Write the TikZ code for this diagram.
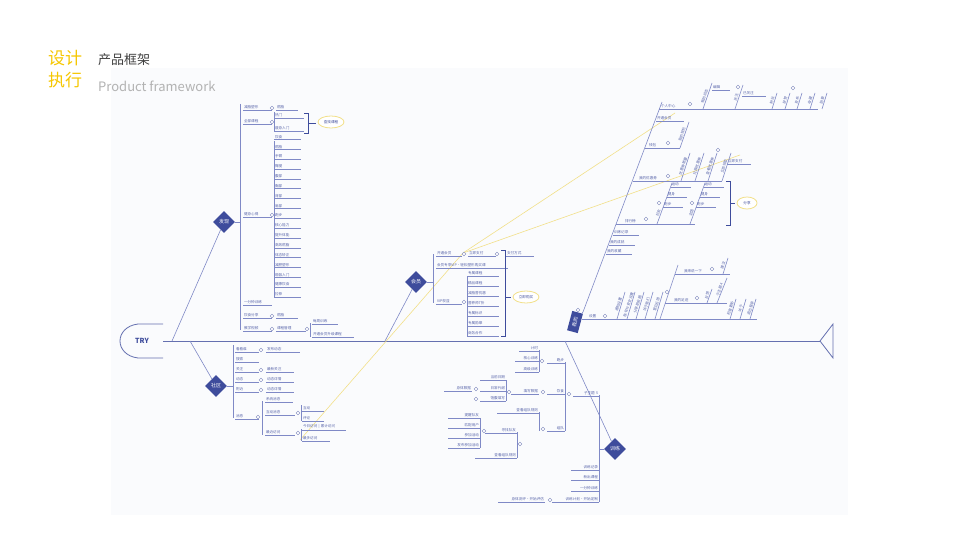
\documentclass[tikz,border=0pt]{standalone}
\usepackage{fontspec}
\setmainfont{Noto Sans CJK SC}
\usetikzlibrary{positioning,shapes.geometric}
\definecolor{fish}{HTML}{3E4C9C}
\definecolor{bone}{HTML}{7F89C6}
\definecolor{hint}{HTML}{F2E089}
\definecolor{gold}{HTML}{F6C700}
\definecolor{panel}{HTML}{FAFBFD}
\tikzset{
    >=stealth,
    font=\fontsize{3.6}{4.2}\selectfont,
    it/.style={anchor=south west,inner sep=.8pt,text=fish!85,text width=#1,align=left,
        append after command={(\tikzlastnode.south west) edge[bone,line width=.5pt] (\tikzlastnode.south east)}},
    it/.default=22pt,
    ti/.style={it=#1,anchor=south east,align=right},
    ti/.default=22pt,
    knob/.style={circle,draw=fish!70,fill=white,line width=.4pt,inner sep=0,minimum size=3.6pt},
    hub/.style={diamond,fill=fish,text=white,inner sep=0,minimum size=22pt,font=\fontsize{5}{6}\selectfont},
    note/.style={ellipse,draw=hint,line width=.8pt,fill=white,text=fish,inner sep=1pt,minimum width=26pt,minimum height=12pt},
    vl/.style={rotate=72,inner sep=.6pt,text=fish!85,anchor=south},
    bone/.style={draw=bone,line width=.6pt},
    spine/.style={draw=fish!80,line width=.8pt},
    trail/.style={draw=hint,line width=.6pt}
}
\begin{document}
\begin{tikzpicture}[x=1pt,y=-1pt]
\useasboundingbox (0,0) rectangle (960,540);
\fill[white] (0,0) rectangle (960,540);
\fill[panel] (111,68) rectangle (848,515);
% title
\node[anchor=west,text=gold,font=\fontsize{17}{18}\selectfont,inner sep=0] (tA) at (48,58) {设计};
\node[anchor=west,text=gold,font=\fontsize{17}{18}\selectfont,inner sep=0] (tB) at (48,80) {执行};
\node[anchor=west,text=black!75,font=\fontsize{13}{14}\selectfont,inner sep=0] (tC) at (98,60) {产品框架};
\node[anchor=west,text=black!30,font=\fontsize{13}{14}\selectfont,inner sep=0] (tD) at (98,86) {Product framework};
% head, spine, tail
\node[text=fish,font=\fontsize{7}{8}\selectfont\bfseries] (try) at (142,341) {TRY};
\draw[spine] (163,324) -- (138,324) .. controls (114,327) and (114,355) .. (138,358) -- (163,358);
\coordinate (s0) at (163,341); \coordinate (s1) at (820,341);
\draw[spine] (s0) -- (s1);
\draw[spine] (s1) -- (833,324) -- (833,358) -- cycle;
% yellow links
\coordinate (y0) at (300,440); \coordinate (y1) at (463,253);
\coordinate (y2) at (675,113); \coordinate (y3) at (740,155);
\draw[trail] (y0) -- (y1) -- (y2);
\draw[trail] (y1) -- (y3);

% ---- 发现
\node[hub] (find) at (224,222) {发现};
\coordinate (fs) at (172,341);
\draw[bone] (fs) -- (find);
\draw[bone] (240,104) -- (240,330);
\draw[bone] (find) -- (240,222);
\node[it=27pt] (f1) at (243,110) {减脂塑形}; \node[knob] (f1k) at (272,108) {};
\node[it=20pt] (f1a) at (276,110) {燃脂};
\node[it=27pt] (f2) at (243,124) {全部课程}; \node[knob] (f2k) at (272,122) {};
\draw[bone] (274,112) -- (274,131);
\node[it=28pt] (f2a) at (274,118) {热门}; \node[it=28pt] (f2b) at (274,131) {瘦身入门};
\draw[fish,line width=.7pt] (304,113) -- (308,113) -- (308,133) -- (304,133) (308,123) -- (316,123);
\node[note] (find2) at (331,122) {查找课程};
\node[it=27pt] (f3) at (243,217) {健身心得}; \node[knob] (f3k) at (272,215) {};
\draw[bone] (274,141) -- (274,297);
\foreach \t [count=\i] in {饮食,燃脂,手臂,臀腿,腹部,胸部,背部,肩部,跑步,核心能力,提升体能,高效燃脂,体态矫正,减肥塑形,瑜伽入门,健康饮食,拉伸}
    \node[it=25pt] (fl\i) at (274,{129.6+9.85*\i}) {\t};
\node[it=27pt] (f4) at (243,305) {一分钟训练};
\node[it=27pt] (f5) at (243,318) {饮食分享}; \node[knob] (f5k) at (272,316) {};
\node[it=20pt] (f5a) at (276,318) {燃脂};
\node[it=27pt] (f6) at (243,331) {教学视频}; \node[knob] (f6k) at (272,329) {};
\node[it=28pt] (f6a) at (276,331) {课程管理}; \node[knob] (f6b) at (307,329) {};
\draw[bone] (310,323) -- (310,337);
\node[it=24pt] (f6c) at (312,324) {每周训练}; \node[it=40pt] (f6d) at (312,337) {开通会员升级课程};

% ---- 社区
\node[hub] (club) at (216,386) {社区};
\coordinate (cs) at (190,341);
\draw[bone] (cs) -- (club);
\draw[bone] (233,345) -- (233,418);
\draw[bone] (club) -- (233,386);
\node[it=22pt] (c1) at (235,352) {看看谁}; \node[knob] (c1k) at (261,350) {};
\node[it=32pt] (c1a) at (266,352) {发布动态};
\node[it=22pt] (c2) at (235,362) {搜索};
\node[it=22pt] (c3) at (235,372) {关注}; \node[knob] (c3k) at (261,370) {};
\node[it=26pt] (c3a) at (266,372) {最新关注};
\node[it=22pt] (c4) at (235,382) {动态}; \node[knob] (c4k) at (261,380) {};
\node[it=26pt] (c4a) at (266,382) {动态详情};
\node[it=22pt] (c5) at (235,392) {附近}; \node[knob] (c5k) at (261,390) {};
\node[it=26pt] (c5a) at (266,392) {动态详情};
\node[it=22pt] (c6) at (235,419) {消息}; \node[knob] (c6k) at (258,417) {};
\draw[bone] (262,401) -- (262,435);
\node[it=26pt] (c6a) at (265,402) {系统消息};
\node[it=28pt] (c6b) at (265,415) {互动消息}; \node[knob] (c6bk) at (298,413) {};
\draw[bone] (301,405) -- (301,421);
\node[it=20pt] (c6c) at (302,411) {互动}; \node[it=20pt] (c6d) at (302,421) {评论};
\node[it=28pt] (c6e) at (265,435) {最近访问}; \node[knob] (c6ek) at (298,433) {};
\draw[bone] (301,429) -- (301,441);
\node[it=42pt] (c6f) at (302,430) {今日访问 | 累计访问}; \node[it=26pt] (c6g) at (302,441) {最多访问};

% ---- 会员
\node[hub] (vip) at (416,282) {会员};
\coordinate (vs) at (385,341);
\draw[bone] (vs) -- (vip);
\draw[bone] (433,254) -- (433,303);
\draw[bone] (vip) -- (433,282);
\node[it=24pt] (v1) at (436,256) {开通会员}; \node[knob] (v1k) at (464,254) {};
\node[it=26pt] (v1a) at (468,256) {立即支付}; \node[knob] (v1b) at (497,254) {};
\node[it=26pt] (v1c) at (506,256) {支付方式};
\node[it=70pt] (v2) at (436,268) {会员专享VIP·轻松塑形购买课};
\node[it=24pt] (v3) at (436,304) {VIP权益}; \node[knob] (v3k) at (464,302) {};
\draw[bone] (467,276) -- (467,336);
\foreach \t [count=\i] in {专属课程,精品课程,减脂营优惠,营养师T折,专属标识,专属勋章,商务合作}
    \node[it=30pt] (vl\i) at (467,{266+10*\i}) {\t};
\draw[fish,line width=.7pt] (501,250) -- (505,250) -- (505,336) -- (501,336) (505,297) -- (511,297);
\node[note] (buy) at (526,297) {立即购买};

% ---- 训练
\node[hub] (gym) at (615,449) {训练};
\coordinate (gs) at (565,341);
\draw[bone] (gs) -- (gym);
\draw[bone] (599,395) -- (599,502);
\draw[bone] (gym) -- (599,449);
\node[ti=24pt] (g1) at (599,396) {子主题 5}; \node[knob] (g1k) at (569,394) {};
\draw[bone] (565,362) -- (565,431);
\node[ti=16pt] (g2) at (565,363) {跑步}; \node[knob] (g2k) at (542,361) {};
\draw[bone] (539,350) -- (539,372);
\node[ti=18pt] (g2a) at (539,351) {计时}; \node[ti=22pt] (g2b) at (539,361) {核心训练};
\node[ti=22pt] (g2c) at (539,372) {高级训练};
\node[ti=16pt] (g3) at (565,394) {饮食}; \node[knob] (g3k) at (543,392) {};
\node[ti=26pt] (g3a) at (539,394) {填写数据}; \node[knob] (g3b) at (509,392) {};
\draw[bone] (506,380) -- (506,401);
\node[ti=24pt] (g3c) at (506,380) {当前日期}; \node[ti=24pt] (g3d) at (506,391) {日常代谢};
\node[ti=24pt] (g3e) at (506,401) {饱腹填写};
\node[knob] (g3f) at (476,389) {}; \node[knob] (g3g) at (476,399) {};
\node[ti=26pt] (g3h) at (472,391) {身体数据};
\node[ti=16pt] (g4) at (565,431) {组队}; \node[knob] (g4k) at (543,429) {};
\draw[bone] (539,412) -- (539,431);
\node[ti=40pt] (g4a) at (539,413) {查看组队规则};
\node[knob] (g4b) at (520,444) {};
\draw[bone] (517,432) -- (517,458);
\node[ti=30pt] (g4c) at (517,433) {寻找队友}; \node[knob] (g4d) at (484,431) {};
\draw[bone] (480,418) -- (480,448);
\foreach \t [count=\i] in {提醒队友,匹配用户,参加活动,发布参加活动}
    \node[ti=30pt] (gl\i) at (480,{408+10*\i}) {\t};
\node[ti=40pt] (g4e) at (517,458) {查看组队规则};
\node[ti=26pt] (g5) at (599,470) {训练记录}; \node[ti=26pt] (g6) at (599,480) {新出课程};
\node[ti=26pt] (g7) at (599,491) {一分钟训练};
\node[ti=45pt] (g8) at (599,502) {训练计划·开始定制}; \node[knob] (g8k) at (550,500) {};
\node[ti=45pt] (g8a) at (545,502) {身体测评·开始评估};

% ---- 我的
\node[fill=fish,text=white,rotate=75,inner sep=2pt,minimum width=20pt,minimum height=11pt,font=\fontsize{5}{6}\selectfont] (me) at (575,322) {我的};
\coordinate (m0) at (583,312); \coordinate (m1) at (662,102);
\draw[bone] (me) -- (m0) -- (m1);
\node[knob] (mk) at (578,310) {};
% 个人中心
\draw[bone] (659,109) -- (818,109);
\node[it=25pt] (p1) at (660,109) {个人中心}; \node[knob] (p1k) at (690,104) {};
\draw[bone] (703,109) -- (712,83) node[vl,pos=.45] (p1a) {我的动态};
\node[it=16pt] (p1b) at (712,90) {编辑};
\draw[bone] (735,109) -- (743,85) node[vl,pos=.45] (p1c) {关注};
\node[knob] (p1d) at (738,87) {};
\node[it=22pt] (p1e) at (742,96) {已关注};
\foreach \x/\t [count=\i] in {772/粉丝,785/获赞,797/发布,810/收藏,822/勋章}
    \draw[bone] (\x,109) -- ++(5,-16) node[vl,pos=.5] (pc\i) {\t};
\node[knob] (p1f) at (793,88) {};
\node[it=26pt] (p2) at (656,121) {开通会员};
% 钱包
\draw[bone] (645,148) -- (680,148);
\node[it=20pt] (p3) at (648,148) {钱包}; \node[knob] (p3k) at (668,143) {};
\draw[bone] (680,148) -- (689,122) node[vl,pos=.5] (p3a) {我的钱包};
% 优惠券
\draw[bone] (633,181) -- (722,181);
\node[it=28pt] (p4) at (638,181) {我的优惠券}; \node[knob] (p4k) at (668,176) {};
\foreach \x/\t [count=\i] in {681/优惠券数量,695/兑换优惠券,708/查看优惠券,722/立即领取}
    \draw[bone] (\x,181) -- ++(9,-28) node[vl,pos=.5] (pq\i) {\t};
\node[knob] (p4a) at (718,150) {};
\node[it=22pt] (p4b) at (727,164) {立即支付};
% 排行榜
\draw[bone] (616,224) -- (695,224);
\node[it=20pt] (p5) at (624,224) {排行榜}; \node[knob] (p5k) at (646,219) {};
\draw[bone] (657,224) -- (672,183) node[vl,pos=.25] (p5a) {好友};
\draw[bone] (690,224) -- (705,183) node[vl,pos=.25] (p5b) {全国};
\node[knob] (p5c) at (659,203) {}; \node[knob] (p5d) at (692,203) {};
\foreach \t/\y [count=\i] in {运动/187,健身/197,跑步/207}{
    \node[it=18pt] (pa\i) at ({657+(224-\y)*15/41},\y) {\t};
    \node[it=18pt] (pb\i) at ({690+(224-\y)*15/41},\y) {\t};}
\draw[fish,line width=.7pt] (726,181) -- (730,181) -- (730,225) -- (726,225) (730,203) -- (735,203);
\node[note,minimum width=20pt] (share) at (747,203) {分享};
\node[it=24pt] (p6) at (613,235) {训练记录};
\node[it=24pt] (p7) at (609,245) {我的成就};
\node[it=24pt] (p8) at (606,254) {我的收藏};
% 设置
\draw[bone] (582,319) -- (757,319);
\node[it=18pt] (p9) at (588,319) {设置}; \node[knob] (p9k) at (605,316) {};
\foreach \x/\t [count=\i] in {617/通知设置,627/账号与安全设置,636/分享朋友圈,645/关于我们,655/意见反馈}
    \draw[bone] (\x,319) -- ++(8,-27) node[vl,pos=.5] (ps\i) {\t};
\draw[bone] (660,319) -- (678,265);
\draw[bone] (665,303) -- (727,303);
\node[it=22pt] (p9a) at (673,303) {我的足迹}; \node[knob] (p9b) at (697,298) {};
\draw[bone] (707,303) -- (712,289) node[vl,pos=.5] (p9c) {反馈};
\draw[bone] (717,303) -- (727,278) node[vl,pos=.5] (p9d) {子主题 4};
\node[knob] (p9e) at (667,292) {};
\draw[bone] (675,274) -- (730,274);
\node[it=26pt] (p9f) at (683,274) {我来说一下}; \node[knob] (p9g) at (712,269) {};
\draw[bone] (723,274) -- (728,258) node[vl,pos=.5] (p9h) {建议};
\foreach \x/\t [count=\i] in {730/检查更新,740/关于,750/退出登录}
    \draw[bone] (\x,319) -- ++(6,-20) node[vl,pos=.5] (pt\i) {\t};
\end{tikzpicture}
\end{document}
